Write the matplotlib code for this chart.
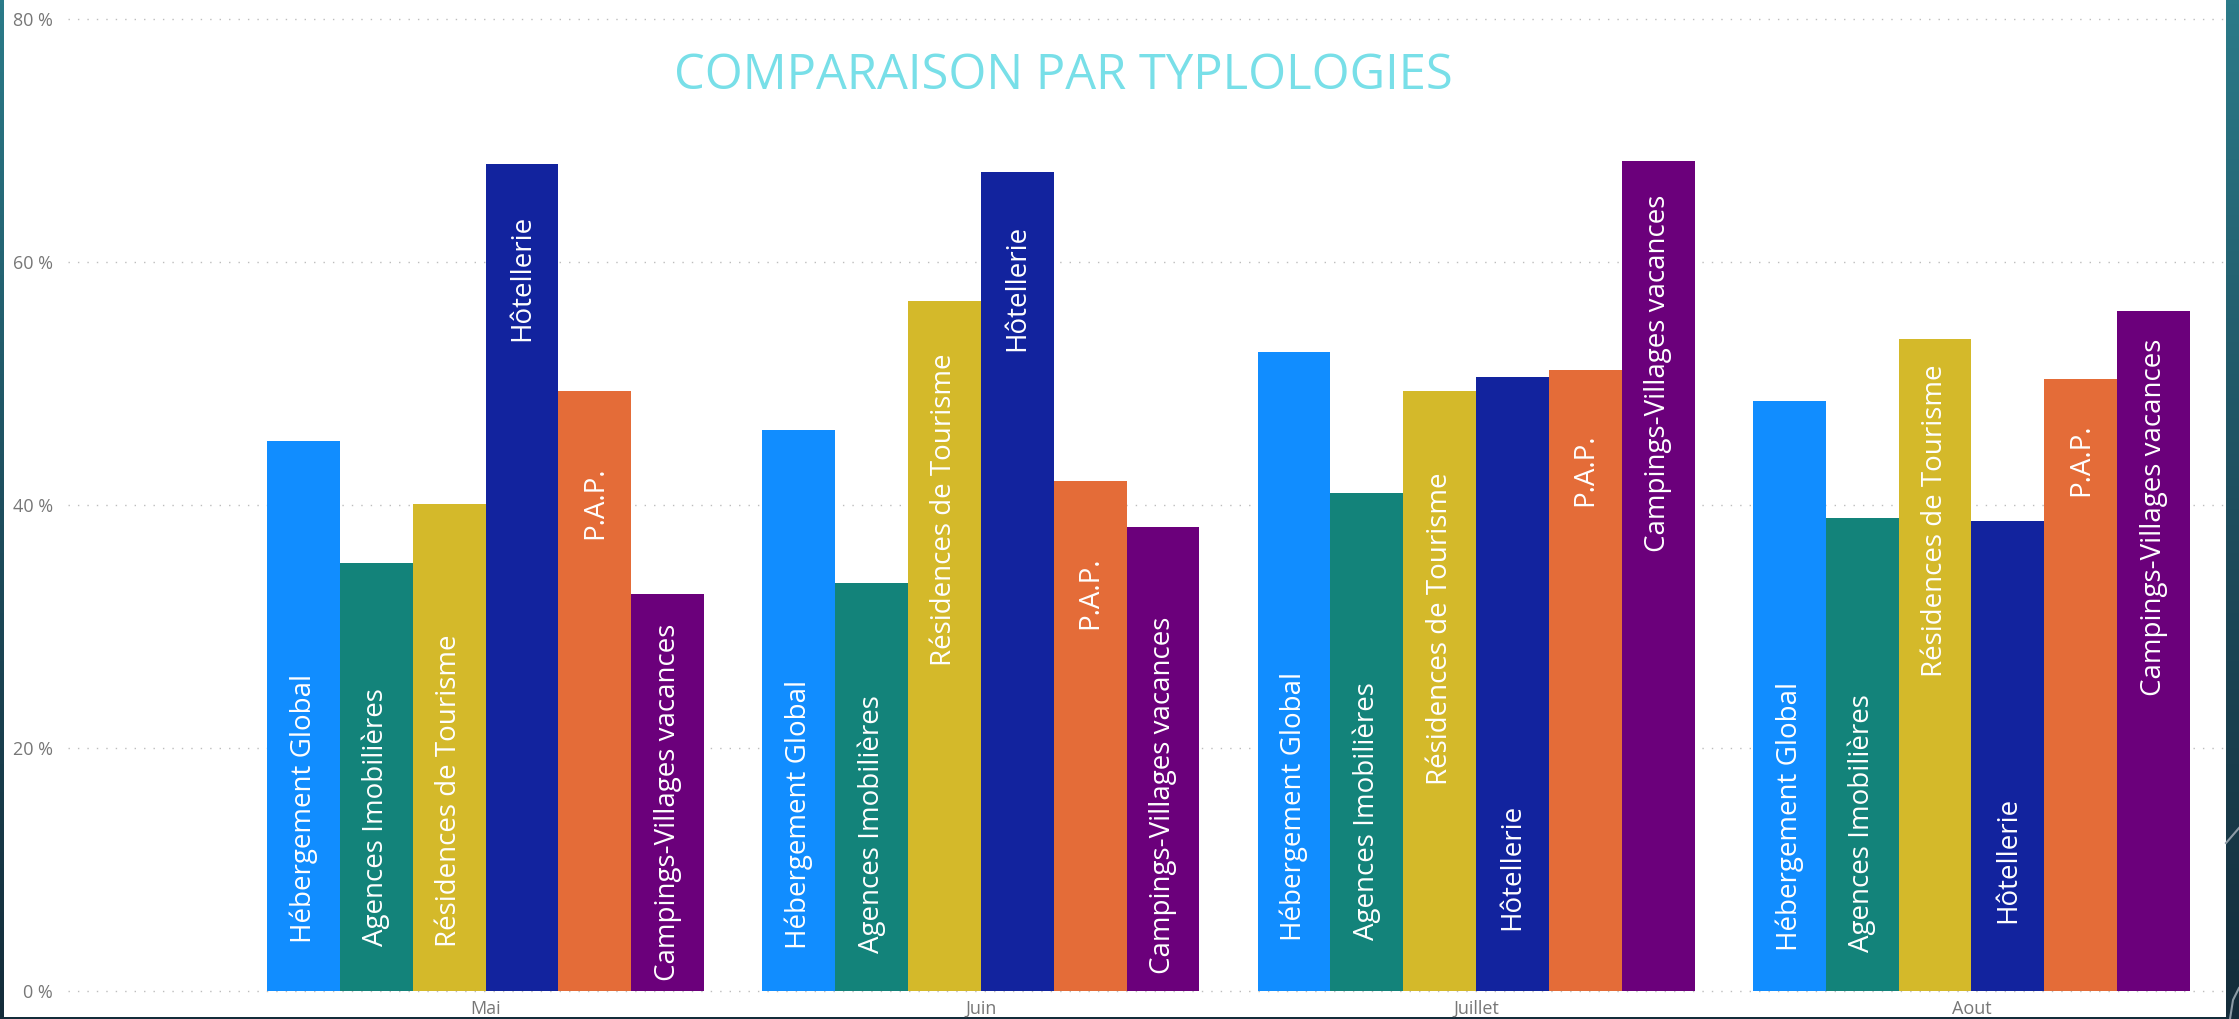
import matplotlib
matplotlib.use('Agg')
import matplotlib.pyplot as plt
import numpy as np
from matplotlib.patches import Rectangle
from matplotlib.colors import LinearSegmentedColormap

plt.rcParams['font.family'] = ['Open Sans', 'DejaVu Sans']

# ---------------- data ----------------
months = ['Mai', 'Juin', 'Juillet', 'Aout']
series = ['Hébergement Global', 'Agences Imobilières', 'Résidences de Tourisme',
          'Hôtellerie', 'P.A.P.', 'Campings-Villages vacances']
hebergement = [45.3, 46.2, 52.6, 48.6]
agences = [35.2, 33.6, 41.0, 38.9]
residences = [40.1, 56.8, 49.4, 53.7]
hotellerie = [68.1, 67.4, 50.5, 38.7]
pap = [49.4, 42.0, 51.1, 50.4]
campings = [32.7, 38.2, 68.3, 56.0]
y_ticks = [0, 20, 40, 60, 80]
title = 'COMPARAISON PAR TYPLOLOGIES'

# ---------------- layout / style ----------------
colors = ['#118DFF', '#13837A', '#D4B92A', '#12239E', '#E46C38', '#6B007B']
# vertical centre of each in-bar label (annotation layout, in axis units)
label_centre = [
    [15.0, 14.5, 15.2, 14.4],
    [14.3, 13.7, 14.8, 13.8],
    [16.5, 39.6, 29.8, 38.7],
    [58.7, 57.9, 10.2, 10.8],
    [40.2, 32.8, 42.9, 43.7],
    [15.5, 16.1, 50.8, 39.0],
]

W, H = 2239, 1019
fig = plt.figure(figsize=(W / 100, H / 100), dpi=100)

# background frame
bg = fig.add_axes([0, 0, 1, 1])
bg.set_xlim(0, 1)
bg.set_ylim(0, 1)
bg.axis('off')
cmap = LinearSegmentedColormap.from_list('bg', ['#2B7B89', '#1E4E5E', '#142C3A'])
bg.imshow(np.linspace(0, 1, 256)[:, None], aspect='auto', cmap=cmap,
          extent=[0, 1, 0, 1], origin='upper', zorder=0)
bg.add_patch(Rectangle((4 / W, 2 / H), (2226 - 4) / W, 1 - 2 / H,
                       facecolor='white', edgecolor='none', zorder=1))
bg.plot([2226 / W, 1], [1 - 843 / H, 1 - 828 / H], color='#8C9BA6', lw=1.5, zorder=2)
bg.plot([2230 / W, 2233 / W, 1], [0, 1 - 1000 / H, 1 - 988 / H], color='#8C9BA6', lw=1.5, zorder=2)

# main axes
ax = fig.add_axes([68 / W, 1 - 991 / H, (2224 - 68) / W, (991 - 19) / H])
ax.patch.set_alpha(0)

x = np.arange(len(months))
w = 0.1471
all_vals = [hebergement, agences, residences, hotellerie, pap, campings]
for k, (name, vals, col) in enumerate(zip(series, all_vals, colors)):
    pos = x + (k - 2.5) * w
    ax.bar(pos, vals, width=w, color=col, edgecolor='none', zorder=2)
    for i in range(len(months)):
        ax.text(pos[i], label_centre[k][i], name, rotation=90, ha='center', va='center',
                color='white', fontsize=20, zorder=3)

ax.set_xlim(-0.8429, 3.5098)
ax.set_ylim(0, 80)
ax.set_yticks(y_ticks)
ax.set_yticklabels([f'{t} %' for t in y_ticks])
ax.set_xticks(x)
ax.set_xticklabels(months)
ax.yaxis.grid(True, color='#BDBDBD', linestyle=(0, (1, 5.8)), linewidth=1.0)
ax.set_axisbelow(True)
for gl in ax.get_ygridlines():
    gl.set_clip_on(False)
for s in ax.spines.values():
    s.set_visible(False)
ax.tick_params(axis='y', length=0, pad=10.8, labelsize=13, labelcolor='#777777')
ax.tick_params(axis='x', length=0, pad=6.5, labelsize=13, labelcolor='#777777')

fig.text(1063 / W, 1 - 89 / H, title, ha='center', va='baseline',
         fontsize=35.2, color='#78DFE8')

fig.savefig('out.png', dpi=100)
